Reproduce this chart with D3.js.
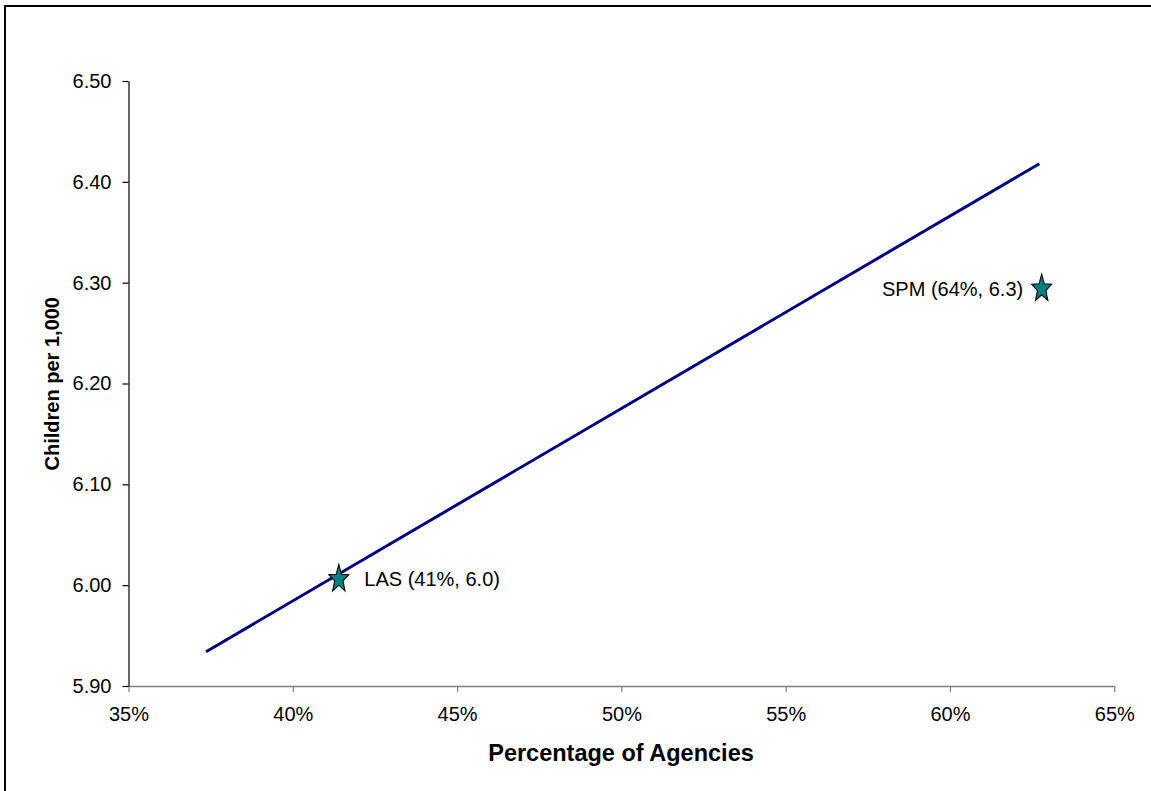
<!DOCTYPE html>
<html>
<head>
<meta charset="utf-8">
<script src="https://cdn.jsdelivr.net/npm/d3@7"></script>
<style>
  html, body { margin: 0; padding: 0; background: #fff; }
  svg { display: block; font-family: Arial, "Liberation Sans", sans-serif; }
</style>
</head>
<body>
<svg id="chart" width="1151" height="791"></svg>
<script>
// ---- data ----
const trendX = [0.3736, 0.6272];
const trendY = [5.934, 6.418];
const pointNames = ["LAS", "SPM"];
const pointX = [0.4140, 0.6279];
const pointY = [6.006, 6.294];
const pointLabels = ["LAS (41%, 6.0)", "SPM (64%, 6.3)"];
const labelSide = ["right", "left"];
const xTicks = [0.35, 0.40, 0.45, 0.50, 0.55, 0.60, 0.65];
const yTicks = [5.90, 6.00, 6.10, 6.20, 6.30, 6.40, 6.50];
const xTitle = "Percentage of Agencies";
const yTitle = "Children per 1,000";

const svg = d3.select("#chart");

// frame (top and left border)
svg.append("line").attr("x1", 5).attr("x2", 1151).attr("y1", 6).attr("y2", 6)
  .attr("stroke", "#000").attr("stroke-width", 2);
svg.append("line").attr("x1", 5).attr("x2", 5).attr("y1", 5).attr("y2", 791)
  .attr("stroke", "#000").attr("stroke-width", 2);

const x = d3.scaleLinear().domain([0.35, 0.65]).range([128.5, 1114.3]);
const y = d3.scaleLinear().domain([5.90, 6.50]).range([686, 81]);

// x axis
const xAxis = svg.append("g").attr("transform", "translate(0,686)")
  .call(d3.axisBottom(x).tickValues(xTicks).tickFormat(d3.format(".0%")).tickSize(6).tickPadding(15).tickSizeOuter(0));
xAxis.select(".domain").attr("stroke", "#808080").attr("stroke-width", 1.5);
xAxis.selectAll(".tick line").attr("stroke", "#808080").attr("stroke-width", 1.2);
xAxis.selectAll("text").attr("font-size", 20).attr("fill", "#000")
  .attr("font-family", "Arial, 'Liberation Sans', sans-serif");

// y axis
const yAxis = svg.append("g").attr("transform", "translate(128.5,0)")
  .call(d3.axisLeft(y).tickValues(yTicks).tickFormat(d3.format(".2f")).tickSize(6).tickPadding(11).tickSizeOuter(0));
yAxis.select(".domain").attr("stroke", "#000").attr("stroke-width", 1.2);
yAxis.selectAll(".tick line").attr("stroke", "#000").attr("stroke-width", 1.2);
yAxis.selectAll("text").attr("font-size", 20).attr("fill", "#000")
  .attr("font-family", "Arial, 'Liberation Sans', sans-serif");

// trend line
const lineData = trendX.map((d, i) => [d, trendY[i]]);
svg.append("path").datum(lineData)
  .attr("d", d3.line().x(d => x(d[0])).y(d => y(d[1])))
  .attr("fill", "none").attr("stroke", "#000080").attr("stroke-width", 3);

// star markers (slightly taller than wide)
function starPath(rx, ry, innerRatio) {
  const pts = [];
  for (let i = 0; i < 10; i++) {
    const a = -Math.PI / 2 + i * Math.PI / 5;
    const r = i % 2 === 0 ? 1 : innerRatio;
    pts.push([Math.cos(a) * rx * r, Math.sin(a) * ry * r]);
  }
  return "M" + pts.map(p => p[0].toFixed(2) + "," + p[1].toFixed(2)).join("L") + "Z";
}
const pts = pointNames.map((n, i) => ({ name: n, x: pointX[i], y: pointY[i], label: pointLabels[i], side: labelSide[i] }));
svg.selectAll("path.star").data(pts).enter().append("path")
  .attr("class", "star")
  .attr("transform", d => `translate(${x(d.x)},${y(d.y)})`)
  .attr("d", starPath(10.5, 14.5, 0.42))
  .attr("fill", "#008080").attr("stroke", "#000").attr("stroke-width", 1.1)
  .attr("stroke-linejoin", "miter");

svg.selectAll("text.plabel").data(pts).enter().append("text")
  .attr("class", "plabel")
  .attr("x", d => x(d.x) + (d.side === "right" ? 25.5 : -18.5))
  .attr("y", d => y(d.y))
  .attr("dy", "0.35em")
  .attr("text-anchor", d => d.side === "right" ? "start" : "end")
  .attr("font-size", 20).attr("fill", "#000")
  .text(d => d.label);

// axis titles
svg.append("text").attr("x", 621).attr("y", 761).attr("text-anchor", "middle")
  .attr("font-size", 23.5).attr("font-weight", "bold").text(xTitle);
svg.append("text").attr("transform", "translate(58.5,383.7) rotate(-90)")
  .attr("text-anchor", "middle").attr("font-size", 20).attr("font-weight", "bold").text(yTitle);
</script>
</body>
</html>
